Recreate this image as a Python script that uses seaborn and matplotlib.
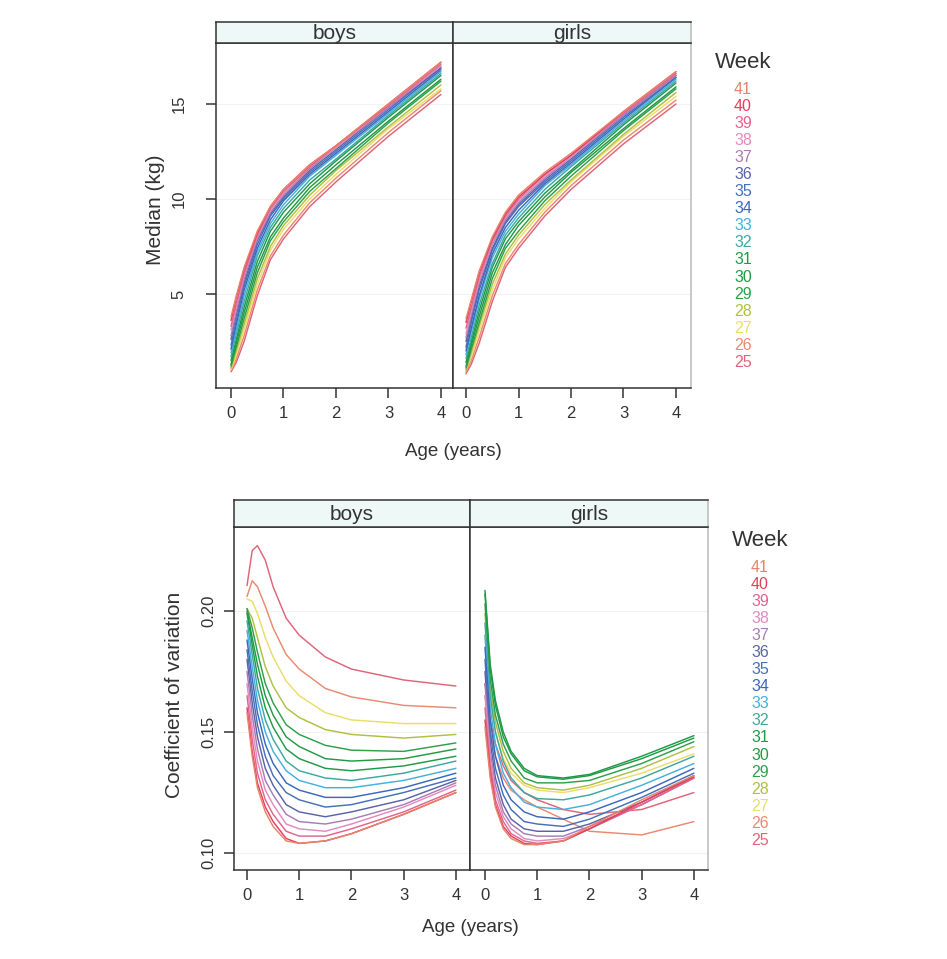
import matplotlib
matplotlib.use("Agg")
import matplotlib.pyplot as plt
import pandas as pd
import seaborn as sns

# weeks of gestation, 25 .. 41
WEEKS = list(range(25, 42))
SEXES = ["boys", "girls"]

WEEK_COLORS = [
    "#e06478", "#ea8a70", "#ecdc6a", "#b0c040", "#2ea04c", "#229a44",
    "#1f9a48", "#3ea8a0", "#45b0e0", "#3a68bc", "#4870b8", "#5a64a8",
    "#a97cb5", "#e08cc0", "#e2648c", "#e3405c", "#e8836a",
]

# median weight (kg), one row per week (25 first), read at MEDIAN_AGES
MEDIAN_AGES = [0, 0.1, 0.25, 0.5, 0.75, 1, 1.5, 2, 3, 4]
MEDIAN_BOYS = [
    [0.9, 1.4, 2.5, 4.9, 6.8, 7.9, 9.6, 10.9, 13.3, 15.5],
    [1.0, 1.6, 2.8, 5.2, 7.0, 8.1, 9.8, 11.1, 13.5, 15.7],
    [1.0, 1.8, 3.1, 5.5, 7.3, 8.4, 10.0, 11.3, 13.7, 15.8],
    [1.1, 2.0, 3.4, 5.8, 7.5, 8.6, 10.2, 11.5, 13.8, 16.0],
    [1.2, 2.2, 3.7, 6.1, 7.8, 8.8, 10.4, 11.6, 14.0, 16.2],
    [1.3, 2.4, 4.0, 6.4, 8.0, 9.0, 10.6, 11.8, 14.1, 16.3],
    [1.5, 2.6, 4.3, 6.7, 8.3, 9.3, 10.8, 12.0, 14.3, 16.5],
    [1.7, 2.9, 4.6, 7.0, 8.5, 9.5, 11.0, 12.1, 14.4, 16.6],
    [1.9, 3.1, 4.9, 7.2, 8.7, 9.7, 11.2, 12.3, 14.5, 16.7],
    [2.1, 3.4, 5.2, 7.4, 8.9, 9.9, 11.3, 12.4, 14.6, 16.8],
    [2.3, 3.6, 5.4, 7.6, 9.1, 10.0, 11.4, 12.5, 14.7, 16.9],
    [2.6, 3.9, 5.6, 7.8, 9.2, 10.1, 11.5, 12.6, 14.8, 16.9],
    [2.8, 4.1, 5.8, 7.9, 9.3, 10.2, 11.6, 12.7, 14.8, 17.0],
    [3.1, 4.3, 6.0, 8.0, 9.4, 10.3, 11.7, 12.7, 14.9, 17.0],
    [3.3, 4.5, 6.1, 8.1, 9.5, 10.4, 11.7, 12.8, 14.9, 17.1],
    [3.6, 4.8, 6.3, 8.2, 9.6, 10.5, 11.8, 12.8, 15.0, 17.2],
    [3.8, 4.9, 6.4, 8.3, 9.6, 10.5, 11.8, 12.8, 15.0, 17.2],
]
MEDIAN_GIRLS = [
    [0.8, 1.3, 2.4, 4.6, 6.4, 7.4, 9.1, 10.5, 12.9, 15.0],
    [0.9, 1.5, 2.7, 4.9, 6.6, 7.6, 9.3, 10.7, 13.1, 15.2],
    [1.0, 1.7, 3.0, 5.2, 6.9, 7.9, 9.5, 10.9, 13.3, 15.4],
    [1.0, 1.9, 3.3, 5.5, 7.1, 8.1, 9.7, 11.0, 13.4, 15.6],
    [1.1, 2.1, 3.5, 5.8, 7.4, 8.3, 9.9, 11.2, 13.6, 15.8],
    [1.2, 2.3, 3.8, 6.1, 7.6, 8.6, 10.1, 11.4, 13.7, 15.9],
    [1.4, 2.5, 4.1, 6.4, 7.9, 8.8, 10.3, 11.5, 13.9, 16.1],
    [1.6, 2.7, 4.4, 6.6, 8.1, 9.0, 10.5, 11.7, 14.0, 16.2],
    [1.8, 3.0, 4.7, 6.9, 8.3, 9.2, 10.7, 11.8, 14.1, 16.3],
    [2.0, 3.2, 4.9, 7.1, 8.5, 9.4, 10.8, 11.9, 14.2, 16.4],
    [2.2, 3.5, 5.2, 7.3, 8.7, 9.6, 10.9, 12.0, 14.3, 16.4],
    [2.5, 3.7, 5.4, 7.4, 8.8, 9.7, 11.0, 12.1, 14.4, 16.5],
    [2.7, 3.9, 5.6, 7.6, 8.9, 9.8, 11.1, 12.2, 14.4, 16.5],
    [2.9, 4.1, 5.7, 7.7, 9.0, 9.9, 11.2, 12.2, 14.5, 16.6],
    [3.2, 4.3, 5.9, 7.8, 9.1, 10.0, 11.3, 12.3, 14.5, 16.6],
    [3.5, 4.6, 6.1, 7.9, 9.2, 10.1, 11.3, 12.3, 14.6, 16.7],
    [3.7, 4.7, 6.2, 8.0, 9.3, 10.2, 11.4, 12.4, 14.6, 16.7],
]

# coefficient of variation, one row per week (25 first), read at CV_AGES
CV_AGES = [0, 0.1, 0.2, 0.35, 0.5, 0.75, 1, 1.5, 2, 3, 4]
CV_BOYS = [
    [0.2105, 0.225, 0.227, 0.221, 0.210, 0.197, 0.190, 0.181, 0.176, 0.1715, 0.169],
    [0.206, 0.2125, 0.210, 0.202, 0.193, 0.182, 0.176, 0.168, 0.1645, 0.161, 0.160],
    [0.205, 0.204, 0.199, 0.189, 0.181, 0.171, 0.165, 0.158, 0.155, 0.1535, 0.1535],
    [0.201, 0.197, 0.189, 0.177, 0.169, 0.160, 0.156, 0.151, 0.149, 0.1475, 0.149],
    [0.201, 0.193, 0.183, 0.170, 0.162, 0.153, 0.149, 0.1445, 0.1425, 0.142, 0.1455],
    [0.200, 0.189, 0.178, 0.165, 0.157, 0.148, 0.144, 0.139, 0.138, 0.139, 0.143],
    [0.199, 0.186, 0.173, 0.160, 0.152, 0.143, 0.139, 0.135, 0.134, 0.136, 0.140],
    [0.196, 0.182, 0.168, 0.155, 0.147, 0.138, 0.134, 0.131, 0.130, 0.133, 0.138],
    [0.192, 0.177, 0.163, 0.150, 0.142, 0.134, 0.130, 0.127, 0.127, 0.130, 0.135],
    [0.188, 0.172, 0.158, 0.145, 0.137, 0.129, 0.126, 0.123, 0.123, 0.127, 0.133],
    [0.184, 0.167, 0.153, 0.140, 0.132, 0.125, 0.122, 0.119, 0.120, 0.125, 0.131],
    [0.180, 0.162, 0.148, 0.135, 0.128, 0.120, 0.117, 0.115, 0.117, 0.122, 0.130],
    [0.175, 0.157, 0.143, 0.130, 0.124, 0.116, 0.113, 0.112, 0.114, 0.120, 0.129],
    [0.170, 0.152, 0.138, 0.126, 0.120, 0.112, 0.110, 0.109, 0.112, 0.119, 0.128],
    [0.165, 0.147, 0.133, 0.122, 0.116, 0.109, 0.107, 0.107, 0.110, 0.117, 0.126],
    [0.160, 0.142, 0.129, 0.119, 0.113, 0.106, 0.104, 0.105, 0.108, 0.116, 0.125],
    [0.158, 0.140, 0.127, 0.117, 0.111, 0.105, 0.104, 0.105, 0.108, 0.116, 0.125],
]
CV_GIRLS = [
    [0.170, 0.155, 0.145, 0.136, 0.130, 0.125, 0.122, 0.118, 0.116, 0.118, 0.125],
    [0.165, 0.150, 0.140, 0.131, 0.126, 0.122, 0.119, 0.114, 0.109, 0.1075, 0.113],
    [0.190, 0.163, 0.150, 0.139, 0.133, 0.128, 0.126, 0.125, 0.127, 0.133, 0.141],
    [0.199, 0.168, 0.154, 0.142, 0.135, 0.129, 0.127, 0.126, 0.128, 0.135, 0.144],
    [0.203, 0.172, 0.157, 0.145, 0.138, 0.131, 0.129, 0.129, 0.130, 0.137, 0.146],
    [0.207, 0.176, 0.161, 0.148, 0.141, 0.134, 0.1315, 0.1305, 0.132, 0.139, 0.1475],
    [0.2085, 0.178, 0.163, 0.150, 0.142, 0.135, 0.132, 0.131, 0.1325, 0.140, 0.1485],
    [0.195, 0.165, 0.150, 0.138, 0.131, 0.125, 0.1225, 0.122, 0.124, 0.131, 0.140],
    [0.190, 0.160, 0.145, 0.133, 0.127, 0.121, 0.119, 0.118, 0.120, 0.128, 0.137],
    [0.185, 0.155, 0.140, 0.128, 0.122, 0.117, 0.115, 0.114, 0.117, 0.125, 0.135],
    [0.180, 0.150, 0.135, 0.124, 0.118, 0.113, 0.112, 0.111, 0.114, 0.123, 0.133],
    [0.175, 0.146, 0.131, 0.120, 0.114, 0.110, 0.109, 0.109, 0.112, 0.121, 0.132],
    [0.170, 0.142, 0.128, 0.117, 0.112, 0.108, 0.107, 0.107, 0.111, 0.120, 0.131],
    [0.165, 0.139, 0.125, 0.115, 0.110, 0.106, 0.105, 0.106, 0.110, 0.120, 0.131],
    [0.160, 0.136, 0.122, 0.113, 0.108, 0.105, 0.104, 0.105, 0.110, 0.120, 0.131],
    [0.155, 0.133, 0.120, 0.111, 0.107, 0.104, 0.1035, 0.105, 0.110, 0.121, 0.1315],
    [0.152, 0.131, 0.119, 0.110, 0.106, 0.1035, 0.1035, 0.105, 0.111, 0.122, 0.132],
]

W, H = 947, 959
INK = "#333333"
STRIP_BG = "#eef8f6"


def long_table(ages, tables, value):
    rows = []
    for sex, table in zip(SEXES, tables):
        for week, values in zip(WEEKS, table):
            for age, v in zip(ages, values):
                rows.append({"sex": sex, "week": week, "age": age, value: v})
    return pd.DataFrame(rows)


def rect(x0, y0, x1, y1):
    # pixel box (top-left origin) -> figure fraction [l, b, w, h]
    return [x0 / W, 1 - y1 / H, (x1 - x0) / W, (y1 - y0) / H]


def fx(x):
    return x / W


def fy(y):
    return 1 - y / H


def draw_block(fig, df, value, panels, strip_top, strip_bot, plot_bot,
               xlim_list, ylim, yticks, ylabels, ylabel, ylabel_xy,
               xlabel_xy, legend_x, legend_y0, ypad=6, tick_fs=12):
    palette = dict(zip(WEEKS, WEEK_COLORS))
    for i, ((x0, x1), sex, xlim) in enumerate(zip(panels, SEXES, xlim_list)):
        ax = fig.add_axes(rect(x0, strip_bot, x1, plot_bot))
        sns.lineplot(
            data=df[df["sex"] == sex], x="age", y=value, hue="week",
            palette=palette, estimator=None, sort=True, legend=False,
            linewidth=1.05, ax=ax,
        )
        for line in ax.get_lines():
            line.set_solid_joinstyle("round")
            line.set_solid_capstyle("round")
        ax.set_xlim(*xlim)
        ax.set_ylim(*ylim)
        ax.set_xlabel("")
        ax.set_ylabel("")
        ax.set_xticks([0, 1, 2, 3, 4])
        ax.set_xticklabels(["0", "1", "2", "3", "4"], fontsize=tick_fs, color=INK)
        for yv in yticks:
            ax.axhline(yv, color="#f2f2f2", linewidth=0.8, zorder=0)
        if i == 0:
            ax.set_yticks(yticks)
            ax.set_yticklabels(ylabels, fontsize=tick_fs, color=INK,
                               rotation=90, va="center")
            ax.tick_params(axis="y", left=True, pad=ypad)
        else:
            ax.set_yticks([])
        ax.tick_params(axis="x", bottom=True, pad=6)
        ax.tick_params(direction="out", length=7, width=1.1, color=INK)
        for side, spine in ax.spines.items():
            spine.set_color(INK)
            spine.set_linewidth(1.1)
        if i == 1:
            ax.spines["right"].set_color("#bbbbbb")
        ax.set_facecolor("white")

        sax = fig.add_axes(rect(x0, strip_top, x1, strip_bot))
        sax.set_facecolor(STRIP_BG)
        sax.set_xticks([])
        sax.set_yticks([])
        for side, spine in sax.spines.items():
            spine.set_color(INK)
            spine.set_linewidth(1.1)
        if i == 1:
            sax.spines["right"].set_color("#bbbbbb")
        sax.text(0.5, 0.45, sex, ha="center", va="center", fontsize=15,
                 color=INK, transform=sax.transAxes)

    fig.text(fx(ylabel_xy[0]), fy(ylabel_xy[1]), ylabel, rotation=90,
             ha="center", va="center", fontsize=15, color=INK)
    fig.text(fx(xlabel_xy[0]), fy(xlabel_xy[1]), "Age (years)",
             ha="center", va="center", fontsize=13.5, color=INK)

    fig.text(fx(legend_x), fy(legend_y0 - 26), "Week", ha="center",
             va="center", fontsize=16, color=INK)
    for k, week in enumerate(reversed(WEEKS)):
        fig.text(fx(legend_x), fy(legend_y0 + k * 17.1), str(week),
                 ha="center", va="center", fontsize=11.5,
                 color=palette[week])


def main() -> None:
    sns.set_style("white")
    plt.rcParams["font.family"] = ["Liberation Sans", "DejaVu Sans"]

    median_df = long_table(MEDIAN_AGES, [MEDIAN_BOYS, MEDIAN_GIRLS], "median")
    cv_df = long_table(CV_AGES, [CV_BOYS, CV_GIRLS], "cv")

    fig = plt.figure(figsize=(W / 100, H / 100), dpi=100)

    draw_block(
        fig, median_df, "median",
        panels=[(216, 453), (453, 691)],
        strip_top=22, strip_bot=43, plot_bot=388,
        xlim_list=[(-0.286, 4.23), (-0.248, 4.286)],
        ylim=(0.05, 18.21),
        yticks=[5, 10, 15], ylabels=["5", "10", "15"],
        ylabel="Median (kg)", ylabel_xy=(155, 210),
        xlabel_xy=(453, 451),
        legend_x=743, legend_y0=89, ypad=14,
    )
    draw_block(
        fig, cv_df, "cv",
        panels=[(234, 470), (470, 708)],
        strip_top=500, strip_bot=527, plot_bot=870,
        xlim_list=[(-0.249, 4.27), (-0.287, 4.27)],
        ylim=(0.093, 0.2347),
        yticks=[0.10, 0.15, 0.20], ylabels=["0.10", "0.15", "0.20"],
        ylabel="Coefficient of variation", ylabel_xy=(175, 695),
        xlabel_xy=(470, 927),
        legend_x=760, legend_y0=567,
    )

    fig.savefig("out.png", dpi=100, facecolor="white")
    plt.close(fig)


if __name__ == "__main__":
    main()
